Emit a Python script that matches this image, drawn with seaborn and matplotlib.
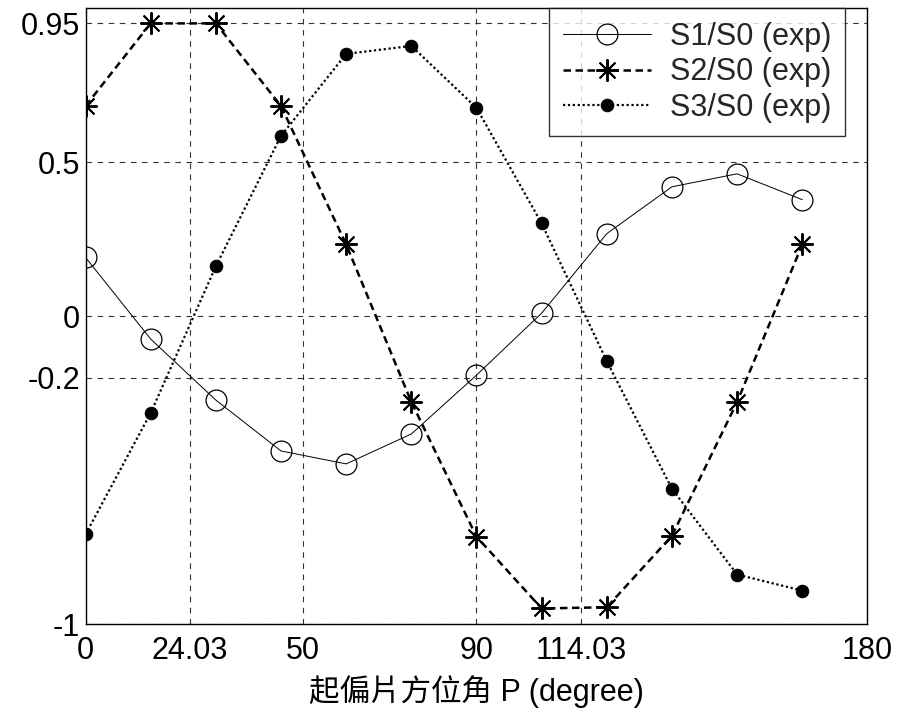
import matplotlib
matplotlib.use("Agg")
import matplotlib.pyplot as plt
import seaborn as sns
import pandas as pd

# Polarizer azimuth angles (degrees)
angle = [0, 15, 30, 45, 60, 75, 90, 105, 120, 135, 150, 165]

# Normalized Stokes parameters (measured)
s1 = [0.191, -0.074, -0.272, -0.437, -0.479, -0.382, -0.191, 0.010, 0.268, 0.420, 0.462, 0.378]
s2 = [0.682, 0.950, 0.950, 0.682, 0.233, -0.278, -0.715, -0.948, -0.944, -0.712, -0.278, 0.233]
s3 = [-0.708, -0.314, 0.162, 0.585, 0.851, 0.877, 0.676, 0.301, -0.146, -0.560, -0.838, -0.890]

x_ticks = [0, 24.03, 50, 90, 114.03, 180]
x_tick_labels = ["0", "24.03", "50", "90", "114.03", "180"]
y_ticks = [-1, -0.2, 0, 0.5, 0.95]
y_tick_labels = ["-1", "-0.2", "0", "0.5", "0.95"]

labels = ["S1/S0 (exp)", "S2/S0 (exp)", "S3/S0 (exp)"]

sns.set_theme(style="white")
plt.rcParams["font.family"] = ["Liberation Sans", "Noto Sans CJK TC", "DejaVu Sans"]

fig = plt.figure(figsize=(9.01, 7.12), dpi=100)
ax = fig.add_axes([0.0949, 0.1229, 0.8679, 0.8659])

df = pd.DataFrame({"angle": angle, "s1": s1, "s2": s2, "s3": s3})

sns.lineplot(data=df, x="angle", y="s1", ax=ax, color="black", linewidth=0.7,
             linestyle="-", marker="o", markersize=15, markerfacecolor="none",
             markeredgecolor="black", markeredgewidth=0.9, label=labels[0])
sns.lineplot(data=df, x="angle", y="s2", ax=ax, color="black", linewidth=1.8,
             linestyle=(0, (3.0, 1.8)), marker=(8, 2, 0), markersize=16,
             markeredgecolor="black", markeredgewidth=1.4, label=labels[1])
sns.lineplot(data=df, x="angle", y="s3", ax=ax, color="black", linewidth=1.6,
             linestyle=(0, (1, 1.2)), marker="o", markersize=9,
             markerfacecolor="black", markeredgecolor="black", label=labels[2])

ax.set_xlim(0, 180)
ax.set_ylim(-1, 1)
ax.set_xticks(x_ticks)
ax.set_xticklabels(x_tick_labels)
ax.set_yticks(y_ticks)
ax.set_yticklabels(y_tick_labels)

ax.grid(True, color="#333333", linestyle=(0, (5, 5)), linewidth=0.8)
ax.tick_params(axis="both", direction="in", length=5, width=0.8, labelsize=22,
               colors="black", top=False, right=False)
ax.tick_params(axis="x", pad=8)
ax.tick_params(axis="y", pad=4)
for side in ax.spines.values():
    side.set_color("black")
    side.set_linewidth(1.0)

ax.set_xlabel("起偏片方位角 P (degree)", fontsize=22, labelpad=7, color="black")
ax.set_ylabel("")

leg = ax.legend(loc="upper right", fontsize=22, frameon=True, fancybox=False,
                edgecolor="black", handlelength=2.9, borderaxespad=0.0,
                labelspacing=0.18, handletextpad=0.6, borderpad=0.45)
leg.get_frame().set_linewidth(1.0)
leg.set_bbox_to_anchor((0.971, 1.0), transform=ax.transAxes)

fig.savefig("out.png", dpi=100, facecolor="white")
